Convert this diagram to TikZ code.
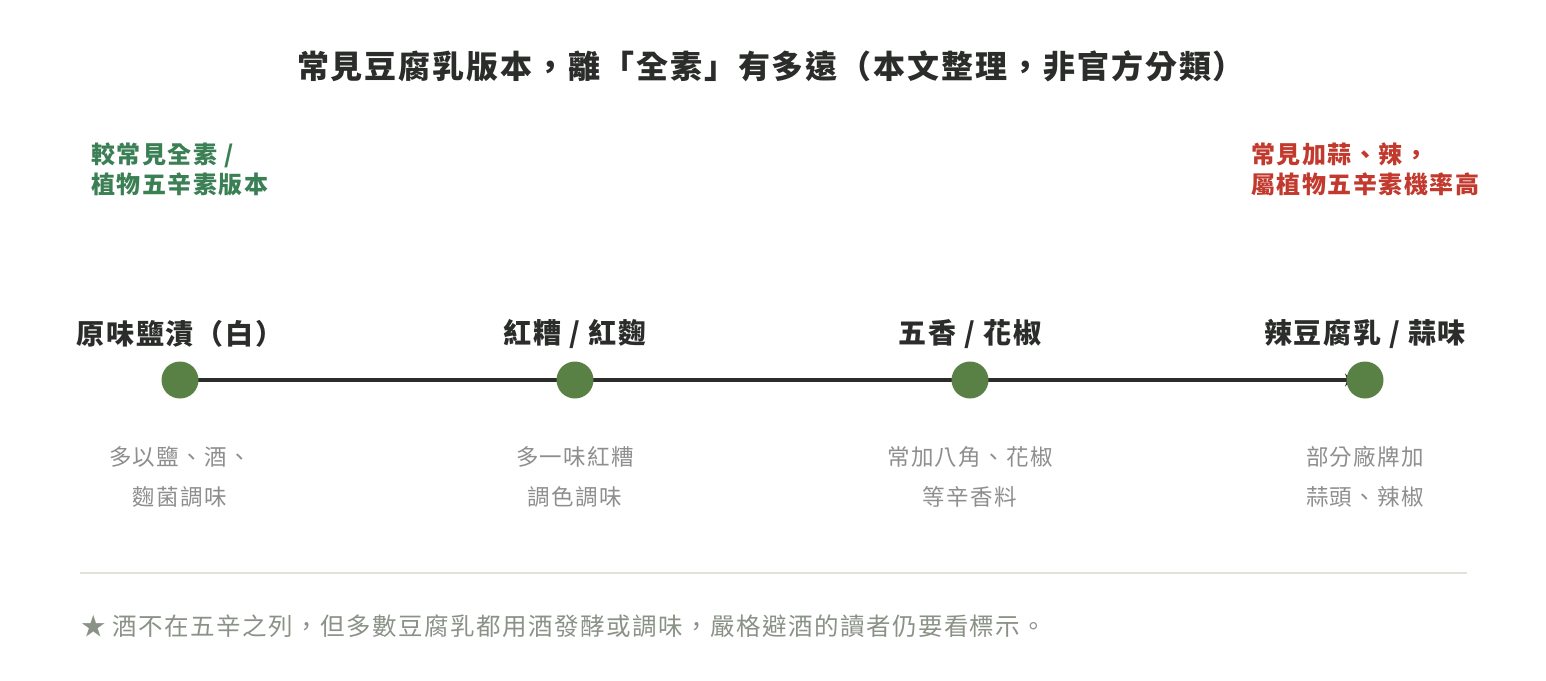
\documentclass[tikz,border=0pt]{standalone}
\usepackage{fontspec}
\setmainfont{Noto Sans CJK TC}[LetterSpace=6]
\usepackage{xcolor}
\usetikzlibrary{arrows.meta, backgrounds}

\definecolor{inkdark}{HTML}{2B2D2B}
\definecolor{dotgreen}{HTML}{5A8145}
\definecolor{notegreen}{HTML}{3B7F55}
\definecolor{notered}{HTML}{C23A2E}
\definecolor{descgray}{HTML}{8E8E8E}
\definecolor{footgray}{HTML}{8A9187}
\definecolor{rulegray}{HTML}{DDE3D8}

\begin{document}
\begin{tikzpicture}[x=1pt, y=-1pt,
    dot/.style={circle, fill=dotgreen, minimum size=37pt, inner sep=0pt},
    stage/.style={font=\fontsize{28}{30}\selectfont\bfseries, text=inkdark},
    desc/.style={font=\fontsize{22.5}{40}\selectfont, text=descgray, align=center},
    sidenote/.style={font=\fontsize{24}{30}\selectfont\bfseries, align=left, anchor=west}]
    \useasboundingbox (0,0) rectangle (1546,680);

    \node (title) at (771,66) [font=\fontsize{32}{36}\selectfont\bfseries, text=inkdark]
        {常見豆腐乳版本，離「全素」有多遠（本文整理，非官方分類）};

    % two ends of the scale
    \node (leftnote) at (88,169) [sidenote, text=notegreen] {較常見全素 /\\植物五辛素版本};
    \node (rightnote) at (1248,169) [sidenote, text=notered] {常見加蒜、辣，\\屬植物五辛素機率高};

    % the four versions
    \foreach \i/\x/\name/\info in {1/180/{原味鹽漬（白）}/{多以鹽、酒、\\麴菌調味},
                                    2/575/{紅糟 / 紅麴}/{多一味紅糟\\調色調味},
                                    3/970/{五香 / 花椒}/{常加八角、花椒\\等辛香料},
                                    4/1365/{辣豆腐乳 / 蒜味}/{部分廠牌加\\蒜頭、辣椒}} {
        \node (dot\i) at (\x,380) [dot] {};
        \node (stage\i) at (\x,334) [stage] {\name};
        \node (desc\i) at (\x,477) [desc] {\info};
    }
    \begin{scope}[on background layer]
        \draw[inkdark, line width=4.5pt, shorten >=13pt, -{Stealth[length=7pt, width=13pt]}]
            (dot1.center) -- (dot4.center);
    \end{scope}

    \coordinate (ruleL) at (80,573);
    \coordinate (ruleR) at (1467,573);
    \draw[rulegray, line width=2pt] (ruleL) -- (ruleR);
    \node (foot) at (78,626) [anchor=west, font=\fontsize{24.5}{28}\selectfont, text=footgray]
        {★ 酒不在五辛之列，但多數豆腐乳都用酒發酵或調味，嚴格避酒的讀者仍要看標示。};
\end{tikzpicture}
\end{document}
